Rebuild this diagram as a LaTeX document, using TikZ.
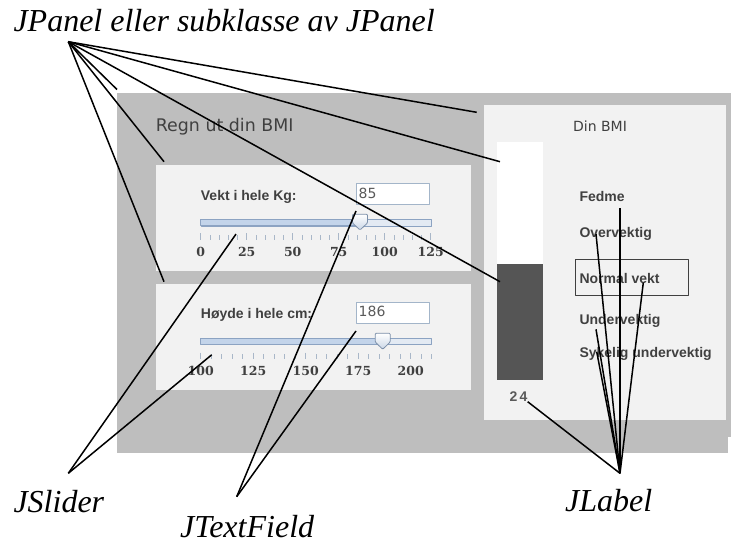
\documentclass[tikz,border=0pt]{standalone}
\usepackage{fontspec}
\setmainfont{Liberation Serif}
\setsansfont{Liberation Sans}
\newfontfamily\vera{DejaVu Sans}
\newfontfamily\veraserif{DejaVu Serif}
\usepackage{tikz}
\usetikzlibrary{calc,positioning}

\definecolor{framegrey}{HTML}{BEBEBE}
\definecolor{panelgrey}{HTML}{F2F2F2}
\definecolor{bardark}{HTML}{555555}
\definecolor{javagrey}{HTML}{404040}
\definecolor{fieldtext}{HTML}{5A5A5A}
\definecolor{fieldblue}{HTML}{A3B5C9}
\definecolor{trackedge}{HTML}{8CA3C2}
\definecolor{trackfill}{HTML}{C3D4EA}
\definecolor{trackpale}{HTML}{E3EAF3}
\definecolor{tickblue}{HTML}{A9B7C8}
\definecolor{thumbblue}{HTML}{C9D6E6}
\definecolor{thumbedge}{HTML}{7C90AA}

\begin{document}
\begin{tikzpicture}[x=1pt,y=-1pt,line join=round]
\tikzstyle{panel}=[rectangle, inner sep=0pt, anchor=north west, fill=panelgrey]
\tikzstyle{field}=[rectangle, inner sep=0pt, anchor=north west, fill=white, draw=fieldblue, line width=1pt]
\tikzstyle{jtext}=[inner sep=0pt, anchor=base west, text=javagrey, font=\sffamily\bfseries\fontsize{14}{16}\selectfont]
\tikzstyle{jplain}=[inner sep=0pt, anchor=base west, text=fieldtext, font=\vera\fontsize{14}{16}\selectfont]
\tikzstyle{ticklabel}=[inner sep=0pt, anchor=base, text=javagrey, font=\veraserif\bfseries\fontsize{12.5}{14}\selectfont]
\tikzstyle{track}=[draw=trackedge, line width=0.8pt]
\tikzstyle{thumb}=[draw=thumbedge, line width=0.8pt, top color=white, bottom color=thumbblue, rounded corners=1pt]
\tikzstyle{tick}=[draw=tickblue, line width=0.8pt]
\tikzstyle{callout}=[inner sep=0pt, anchor=base west, font=\itshape\fontsize{32}{38}\selectfont]
\tikzstyle{pointer}=[line width=1.5pt]

\useasboundingbox (0,0) rectangle (731,543);

\node[panel, fill=framegrey, minimum width=611pt, minimum height=359.5pt] (frame) at (117,93) {};
\node[panel, fill=framegrey, minimum width=3pt, minimum height=344pt] (frameedge) at (728,93) {};
\node[panel, minimum width=315.3pt, minimum height=105.7pt] (vektpanel) at (155.7,165) {};
\node[panel, minimum width=315.3pt, minimum height=106pt] (hoydepanel) at (155.7,283.3) {};
\node[panel, minimum width=242.7pt, minimum height=314.3pt] (bmipanel) at (483.3,105) {};

\node[jplain, text=javagrey, font=\vera\fontsize{17.4}{20}\selectfont] (title) at (155.7,131.3) {Regn ut din BMI};

\node[jtext] (vektlabel) at (200.7,200) {Vekt i hele Kg:};
\node[field, minimum width=73.6pt, minimum height=21.3pt] (vektfield) at (355.7,182.7) {};
\node[jplain] (vektvalue) at (358.5,198) {85};
\node[panel, fill=trackpale, track, minimum width=230pt, minimum height=6.4pt] (vektslider) at (200.7,219.3) {};
\draw[track, fill=trackfill] (vektslider.north west) rectangle (360,225.7);
\draw[thumb] (352.5,214.3) -- (367.5,214.3) -- (367.5,223) -- (360,230) -- (352.5,223) -- cycle;
\foreach \i in {0,...,25}
  \draw[tick] ({200.7+9.2*\i},235) -- ++(0,5);
\foreach \v in {0,25,...,125} {
  \draw[tick] ({200.7+1.84*\v},233.3) -- ++(0,6.7);
  \node[ticklabel] (vt\v) at ({200.7+1.84*\v},256) {\v};
}

\node[jtext] (hoydelabel) at (200.7,318.3) {Høyde i hele cm:};
\node[field, minimum width=73.6pt, minimum height=21.6pt] (hoydefield) at (355.7,301.7) {};
\node[jplain] (hoydevalue) at (358.5,316.7) {186};
\node[panel, fill=trackpale, track, minimum width=230pt, minimum height=6pt] (hoydeslider) at (200.7,338.3) {};
\draw[track, fill=trackfill] (hoydeslider.north west) rectangle (382.7,344.3);
\draw[thumb] (375.2,333.3) -- (390.2,333.3) -- (390.2,342) -- (382.7,349.3) -- (375.2,342) -- cycle;
\foreach \i in {0,...,22}
  \draw[tick] ({200.7+10.5*\i},354.3) -- ++(0,5);
\foreach \v in {100,125,...,200} {
  \draw[tick] ({200.7+2.1*(\v-100)},352.6) -- ++(0,6.7);
  \node[ticklabel] (ht\v) at ({200.7+2.1*(\v-100)},375) {\v};
}

\node[jplain, text=javagrey, anchor=base] (dinbmi) at (600,131.7) {Din BMI};
\node[panel, fill=white, minimum width=45.6pt, minimum height=122.3pt] (barempty) at (496.7,141.7) {};
\node[panel, fill=bardark, minimum width=45.6pt, minimum height=116pt] (barfull) at (496.7,264) {};
\node[jtext, text=fieldtext, anchor=base] (bmivalue) at (518.5,401.7) {2\,4};
\node[jtext] (fedme) at (579.3,201) {Fedme};
\node[jtext] (overvektig) at (579.3,237.7) {Overvektig};
\node[rectangle, draw=javagrey, line width=1pt, inner sep=0pt, anchor=north west, minimum width=113.3pt, minimum height=35.7pt] (normalbox) at (575,259.3) {};
\node[jtext] (normal) at (579.3,283.3) {Normal vekt};
\node[jtext] (undervektig) at (579.3,324.3) {Undervektig};
\node[jtext] (sykelig) at (579.3,357.7) {Sykelig undervektig};

\node[callout] (jpanel) at (13.3,31.7) {JPanel eller subklasse av JPanel};
\node[callout] (jslider) at (13.3,512) {JSlider};
\node[callout] (jtextfield) at (180,537) {JTextField};
\node[callout] (jlabel) at (565,511.7) {JLabel};

\coordinate (panelhub) at (68.3,41.7);
\coordinate (sliderhub) at (68.3,473.3);
\coordinate (fieldhub) at (236.7,496.7);
\coordinate (labelhub) at (620,473.3);

\draw[pointer] (panelhub) -- ($(frame.north west)+(0,-3.5)$);
\draw[pointer] (panelhub) -- ($(vektpanel.north west)+(8.3,-3.3)$);
\draw[pointer] (panelhub) -- ($(hoydepanel.north west)+(8.3,-1.6)$);
\draw[pointer] (panelhub) -- ($(bmipanel.north west)+(-6.6,7.3)$);
\draw[pointer] (panelhub) -- ($(barempty.north west)+(3.3,20)$);
\draw[pointer] (panelhub) -- ($(barfull.north west)+(3.3,17.7)$);

\draw[pointer] (sliderhub) -- ($(vektslider.south west)+(35.3,7.6)$);
\draw[pointer] (sliderhub) -- ($(hoydeslider.south west)+(11,9.7)$);

\draw[pointer] (fieldhub) -- ($(vektfield.south west)+(0.3,6)$);
\draw[pointer] (fieldhub) -- ($(hoydefield.south west)+(0.3,6.7)$);

\draw[pointer] (labelhub) -- ($(bmivalue.base east)+(0,0)$);
\draw[pointer] (labelhub) -- ($(fedme.base west)+(40.7,7.3)$);
\draw[pointer] (labelhub) -- ($(overvektig.base west)+(16.7,-3.7)$);
\draw[pointer] (labelhub) -- ($(normal.base west)+(64,-0.6)$);
\draw[pointer] (labelhub) -- ($(undervektig.base west)+(16.7,5)$);
\draw[pointer] (labelhub) -- ($(sykelig.base west)+(17.4,-6)$);
\end{tikzpicture}
\end{document}
